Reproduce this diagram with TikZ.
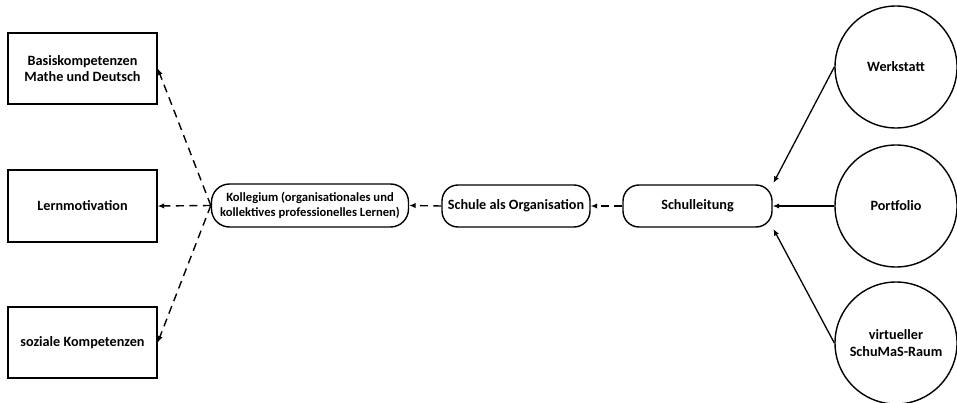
\documentclass[tikz,border=0pt]{standalone}
\usepackage{fontspec}
\setmainfont{Carlito}
\usetikzlibrary{arrows.meta}
\begin{document}
\begin{tikzpicture}[x=1pt,y=-1pt,
  every node/.style={font=\bfseries\fontsize{14.2}{16.5}\selectfont, align=center, inner sep=0pt, line width=1.4pt},
  outbox/.style={draw, rectangle, minimum width=149pt, minimum height=71pt},
  pill/.style={draw, rectangle, rounded corners=16pt, minimum height=42pt},
  tool/.style={draw, circle, minimum size=122pt, font=\bfseries\fontsize{14.2}{17}\selectfont},
  darr/.style={line width=1.4pt, dash pattern=on 8pt off 5.5pt, -{Latex[length=6.5pt,width=5.5pt]}},
  sarr/.style={line width=1.3pt, -{Latex[length=6.5pt,width=5.5pt]}}
]
\useasboundingbox (0,0) rectangle (957,403);
\node[outbox] (b1) at (82.5,68.5) {Basiskompetenzen\\Mathe und Deutsch};
\node[outbox, minimum height=72pt] (b2) at (82.5,206) {Lernmotivation};
\node[outbox] (b3) at (82.5,342.5) {soziale Kompetenzen};
\node[pill, minimum width=197pt, minimum height=43pt, rounded corners=18pt, font=\bfseries\fontsize{12.6}{15}\selectfont] (k) at (310,205.5) {Kollegium (organisationales und\\kollektives professionelles Lernen)};
\node[pill, minimum width=148pt] (s) at (516,206) {Schule als Organisation};
\node[pill, minimum width=149pt] (sl) at (697.5,206) {Schulleitung};
\node[tool] (w) at (896,67) {Werkstatt};
\node[tool] (p) at (896,206) {Portfolio};
\node[tool] (v) at (896,343) {virtueller\\SchuMaS-Raum};
\draw[darr] (k.west) -- (b1.east);
\draw[darr] (k.west) -- (b2.east);
\draw[darr] (k.west) -- (b3.east);
\draw[darr] (s.west) -- (k.east);
\draw[darr] (sl.west) -- (s.east);
\draw[sarr, shorten >=1.5pt] (w.west) -- (sl.north east);
\draw[sarr] (p.west) -- (sl.east);
\draw[sarr, shorten >=1.5pt] (v.west) -- (sl.south east);
\end{tikzpicture}
\end{document}
